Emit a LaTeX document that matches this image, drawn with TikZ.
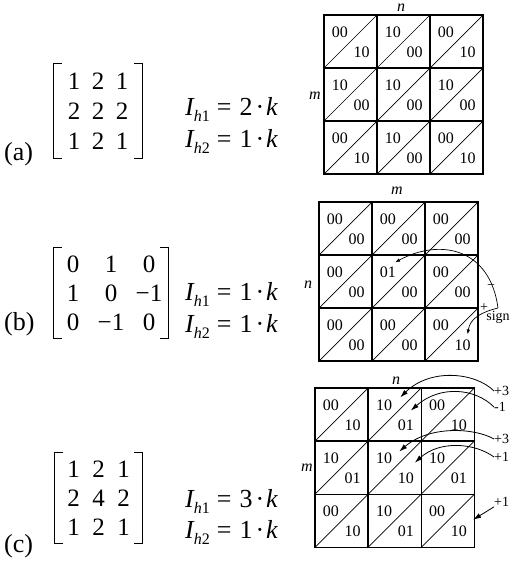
\documentclass[tikz,border=0pt]{standalone}
\usepackage{fontspec}
\setmainfont{Liberation Serif}
\usepackage{tikz}
\usetikzlibrary{positioning,arrows.meta,calc,matrix}
\tikzset{
  cell-box/.style={draw=black,line width=1.3pt,inner sep=0pt},
  cell-diag/.style={draw=black,line width=0.7pt},
  cell-txt/.style={inner sep=0pt,font=\fontsize{16}{16}\selectfont},
  axis-lbl/.style={inner sep=0pt,font=\fontsize{16}{16}\selectfont\itshape},
  mat-grid/.style={matrix of nodes,inner sep=0pt,column sep=0pt,row sep=0pt,
    nodes={inner sep=0pt,minimum width=24pt,minimum height=30pt,anchor=center,
      font=\fontsize{25}{25}\selectfont}},
  mat-bracket/.style={draw=black,line width=0.9pt},
  eq-txt/.style={inner sep=0pt,anchor=base west,font=\fontsize{26}{26}\selectfont},
  tag-txt/.style={inner sep=0pt,anchor=base west,font=\fontsize{26}{26}\selectfont},
  note-txt/.style={inner sep=0pt,font=\fontsize{14}{14}\selectfont},
  arrow-sign/.style={-{Latex[length=5pt,width=3.5pt]},line width=0.7pt},
  arrow-wt/.style={-{Latex[length=8pt,width=5pt]},line width=0.8pt},
}
% 3x3 grid of split cells: prefix, x0, y0, cell size, labels top/bottom
\newcommand{\cellgrid}[5]{%
  \foreach \lt/\lb [count=\i from 0] in {#5}{
    \pgfmathtruncatemacro{\rw}{\i/3}
    \pgfmathtruncatemacro{\cl}{mod(\i,3)}
    \node[cell-box,minimum width=#4pt,minimum height=#4pt] (#1-\rw-\cl)
      at ({#2+(\cl+0.5)*#4},{#3+(\rw+0.5)*#4}) {};
    \draw[cell-diag] (#1-\rw-\cl.south west) -- (#1-\rw-\cl.north east);
    \node[cell-txt] (#1-\rw-\cl-t) at ($(#1-\rw-\cl.center)+(-0.2*#4,-0.18*#4)$) {\lt};
    \node[cell-txt] (#1-\rw-\cl-b) at ($(#1-\rw-\cl.center)+(0.21*#4,0.2*#4)$) {\lb};
  }}
% bracket pair round a matrix node
\newcommand{\matbrackets}[2]{%
  \draw[mat-bracket] ([xshift=-#2+8pt,yshift=2pt]#1.north west) -- ([xshift=-#2,yshift=2pt]#1.north west)
    -- ([xshift=-#2,yshift=-2pt]#1.south west) -- ++(8,0);
  \draw[mat-bracket] ([xshift=#2-8pt,yshift=2pt]#1.north east) -- ([xshift=#2,yshift=2pt]#1.north east)
    -- ([xshift=#2,yshift=-2pt]#1.south east) -- ++(-8,0);}
\newcommand{\ihtxt}[2]{{\itshape I}\raisebox{-6pt}{\fontsize{16}{16}\selectfont{\itshape h}#1}\kern7pt=\kern8pt#2\kern3pt·\kern2pt{\itshape k}}

\begin{document}
\begin{tikzpicture}[x=1pt,y=-1pt]
  \useasboundingbox (0,0) rectangle (518,561);
  % (a)
  \matrix[mat-grid] (ma) at (98,111) {1 & 2 & 1\\ 2 & 2 & 2\\ 1 & 2 & 1\\};
  \matbrackets{ma}{8pt}
  \node[eq-txt] (ia1) at (185,116) {\ihtxt{1}{2}};
  \node[eq-txt] (ia2) at (185,148) {\ihtxt{2}{1}};
  \node[tag-txt] (ta) at (4,161) {(a)};
  \cellgrid{ga}{324}{15}{53}{00/10,10/00,00/10,10/00,10/00,10/00,00/10,10/00,00/10}
  \node[axis-lbl] (na) at (401,8) {n};
  \node[axis-lbl] (mma) at (315,96) {m};
  % (b)
  \matrix[mat-grid,nodes={minimum width=38pt,minimum height=29pt}] (mb) at (111,293)
    {0 & 1 & 0\\ 1 & 0 & −1\\ 0 & −1 & 0\\};
  \matbrackets{mb}{0pt}
  \node[eq-txt] (ib1) at (185,300) {\ihtxt{1}{1}};
  \node[eq-txt] (ib2) at (185,332) {\ihtxt{2}{1}};
  \node[tag-txt] (tb) at (4,330) {(b)};
  \cellgrid{gb}{319}{202}{53}{00/00,00/00,00/00,00/00,01/00,00/00,00/00,00/00,00/10}
  \node[axis-lbl] (mmb) at (397,191) {m};
  \node[axis-lbl] (nb) at (308,285) {n};
  \coordinate (sgn) at (498,308);
  \node[note-txt,anchor=north] (sgnlbl) at ([yshift=-3pt]sgn) {sign};
  \node[note-txt] (minus) at (491,287) {−};
  \node[note-txt] (plus) at (484,308) {+};
  \draw[arrow-sign] (sgn) .. controls (490,248) and (440,238) .. ([xshift=-1pt,yshift=4pt]gb-1-1-t.north east);
  \draw[arrow-sign] (sgn) .. controls (482,312) and (470,318) .. ([xshift=5pt,yshift=5pt]gb-2-2-b.north);
  % (c)
  \matrix[mat-grid,nodes={minimum width=25pt,minimum height=29pt}] (mc) at (98.5,498)
    {1 & 2 & 1\\ 2 & 4 & 2\\ 1 & 2 & 1\\};
  \matbrackets{mc}{6pt}
  \node[eq-txt] (ic1) at (185,507) {\ihtxt{1}{3}};
  \node[eq-txt] (ic2) at (185,538) {\ihtxt{2}{1}};
  \node[tag-txt] (tc) at (4,552) {(c)};
  \cellgrid{gc}{315}{388}{53.1}{00/10,10/01,00/10,10/01,10/10,10/01,00/10,10/01,00/10}
  \node[axis-lbl] (nc) at (396,381) {n};
  \node[axis-lbl] (mmc) at (307,468) {m};
  \node[note-txt,anchor=west] (w1) at (494,391) {+3};
  \node[note-txt,anchor=west] (w2) at (494,407) {-1};
  \node[note-txt,anchor=west] (w3) at (494,439) {+3};
  \node[note-txt,anchor=west] (w4) at (494,457) {+1};
  \node[note-txt,anchor=west] (w5) at (494,502) {+1};
  \draw[arrow-wt] (w1.west) .. controls (475,372) and (430,368) .. ([xshift=8pt,yshift=2pt]gc-0-1-t.north east);
  \draw[arrow-wt] (w2.west) .. controls (475,388) and (440,385) .. ([xshift=5pt,yshift=9pt]gc-0-1-b.north);
  \draw[arrow-wt] (w3.west) .. controls (475,428) and (430,425) .. ([xshift=7pt,yshift=1pt]gc-1-1-t.north east);
  \draw[arrow-wt] (w4.west) .. controls (475,443) and (440,440) .. ([xshift=9pt,yshift=10pt]gc-1-1-b.north);
  \draw[arrow-wt] (w5.south west) -- ([xshift=6pt,yshift=6pt]gc-2-2-b.north east);
\end{tikzpicture}
\end{document}
